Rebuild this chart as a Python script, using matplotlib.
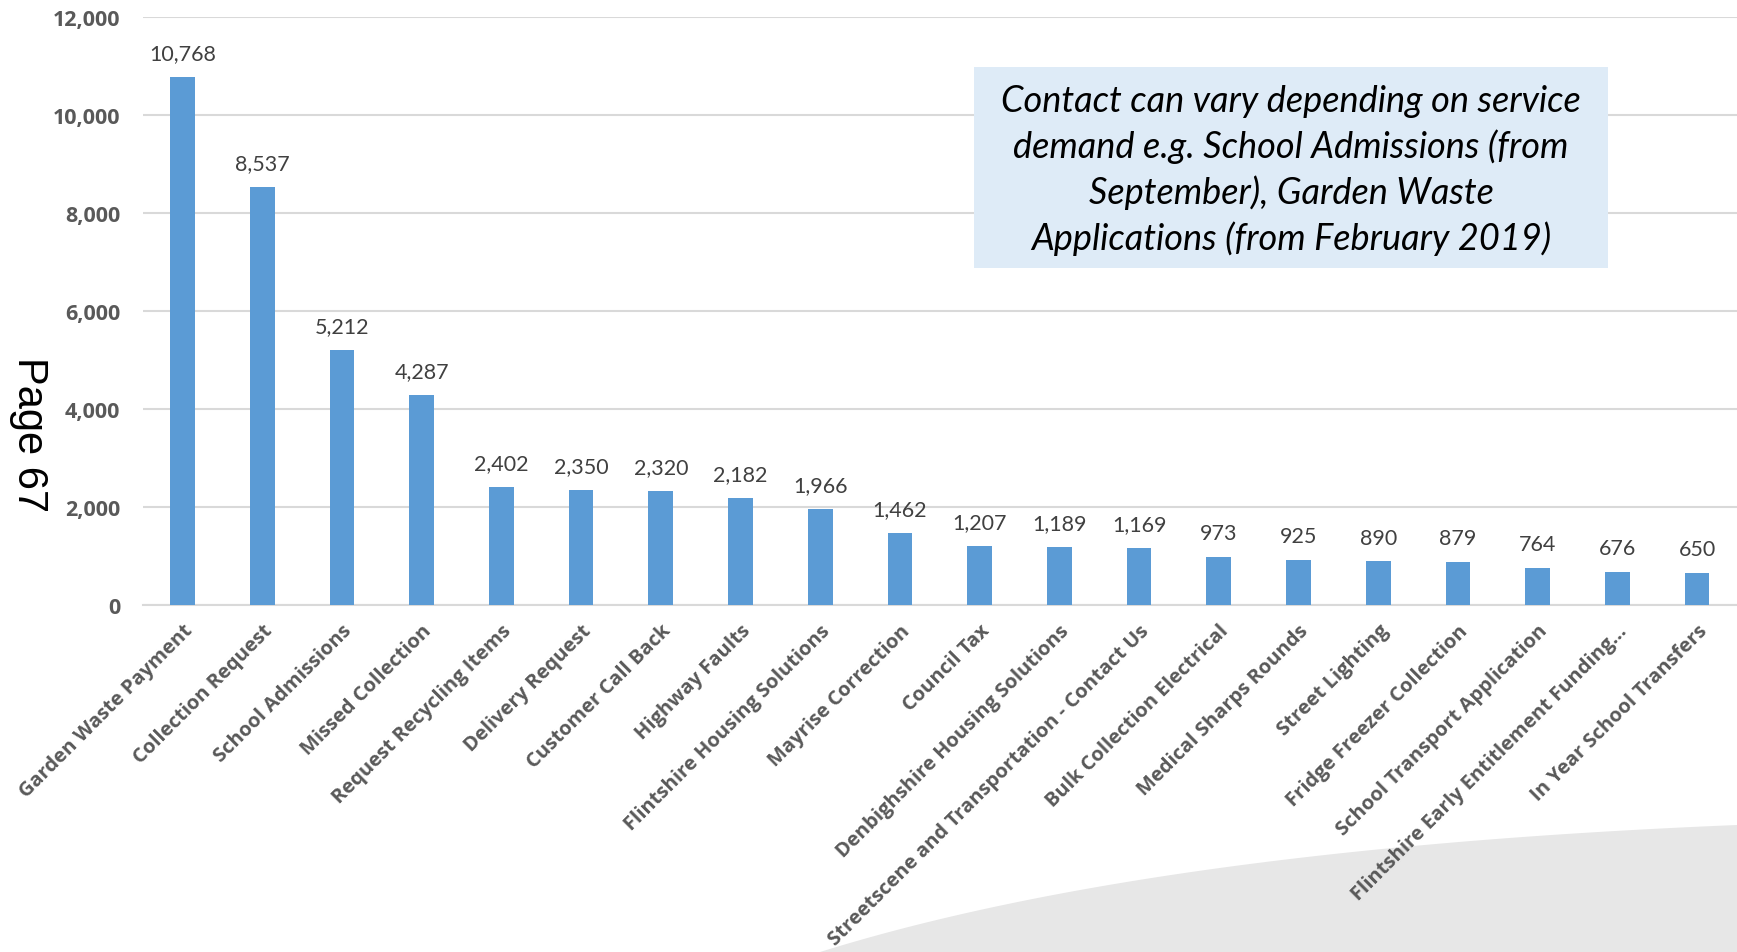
import numpy as np
import matplotlib.pyplot as plt
from matplotlib.patches import Rectangle, Polygon

# dados do grafico
categorias = ['Garden Waste Payment', 'Collection Request', 'School Admissions',
              'Missed Collection', 'Request Recycling Items', 'Delivery Request',
              'Customer Call Back', 'Highway Faults', 'Flintshire Housing Solutions',
              'Mayrise Correction', 'Council Tax', 'Denbighshire Housing Solutions',
              'Streetscene and Transportation - Contact Us', 'Bulk Collection Electrical',
              'Medical Sharps Rounds', 'Street Lighting', 'Fridge Freezer Collection',
              'School Transport Application', 'Flintshire Early Entitlement Funding...',
              'In Year School Transfers']
contatos = [10768, 8537, 5212, 4287, 2402, 2350, 2320, 2182, 1966, 1462,
            1207, 1189, 1169, 973, 925, 890, 879, 764, 676, 650]
y_ticks = [0, 2000, 4000, 6000, 8000, 10000, 12000]
nota = ('Contact can vary depending on service\ndemand e.g. School Admissions (from\n'
        'September), Garden Waste\nApplications (from February 2019)')

W, H = 1737, 953
fig = plt.figure(figsize=(W / 100, H / 100), dpi=100)
plt.rcParams['font.family'] = ['Lato', 'DejaVu Sans']

# faixa cinza no canto inferior
t = np.linspace(0, 1, 60)
p0, p1, p2 = np.array([820, 953]), np.array([1150, 850]), np.array([1737, 826])
curva = ((1 - t)[:, None] ** 2) * p0 + (2 * (1 - t) * t)[:, None] * p1 + (t[:, None] ** 2) * p2
pts = np.vstack([curva, [[W, H], [820, H]]])
pts = np.column_stack([pts[:, 0] / W, 1 - pts[:, 1] / H])
fig.patches.append(Polygon(pts, closed=True, transform=fig.transFigure,
                           facecolor='#e7e7e7', edgecolor='none', zorder=-5))

ax = fig.add_axes([142.7 / W, 1 - 606 / H, 1 - 142.7 / W, (606 - 18) / H])
ax.patch.set_facecolor('none')

x = np.arange(len(categorias))
ax.bar(x, contatos, width=0.31, color='#5b9bd5', zorder=3)

for xi, v in zip(x, contatos):
    ax.annotate(f'{v:,}', (xi, v), xytext=(0, 10), textcoords='offset points',
                ha='center', va='bottom', fontsize=15.5, color='#404040')

ax.set_xlim(-0.5, len(categorias) - 0.5)
ax.set_ylim(0, 12000)
ax.set_yticks(y_ticks)
ax.set_yticklabels([f'{v:,}' for v in y_ticks], fontsize=15.5, fontweight='bold',
                   color='#595959', family='Open Sans')
ax.set_xticks(x)
ax.set_xticklabels(categorias, rotation=45, ha='right', rotation_mode='anchor',
                   fontsize=14.5, fontweight='bold', color='#595959', family='Open Sans')
ax.tick_params(axis='y', length=0, pad=16)
ax.tick_params(axis='x', length=0, pad=11)
ax.grid(axis='y', color='#d9d9d9', linewidth=1.5, zorder=0)
for lado in ['top', 'right', 'left']:
    ax.spines[lado].set_visible(False)
ax.spines['bottom'].set_color('#d9d9d9')
ax.spines['bottom'].set_linewidth(1.5)

# caixa de nota
bx0, by0, bx1, by1 = 974, 68, 1608, 269
fig.patches.append(Rectangle((bx0 / W, 1 - by1 / H), (bx1 - bx0) / W, (by1 - by0) / H,
                             transform=fig.transFigure, facecolor='#deebf7',
                             edgecolor='none', zorder=5))
fig.text((bx0 + bx1) / 2 / W, 1 - (by0 + by1) / 2 / H - 0.002, nota, ha='center', va='center',
         fontsize=26, style='italic', color='black', linespacing=1.4, zorder=6)

fig.text(29 / W, 1 - 435 / H, 'Page 67', rotation=-90, ha='center', va='center',
         fontsize=30, family='Liberation Sans', color='black')

fig.savefig('out.png', dpi=100)
